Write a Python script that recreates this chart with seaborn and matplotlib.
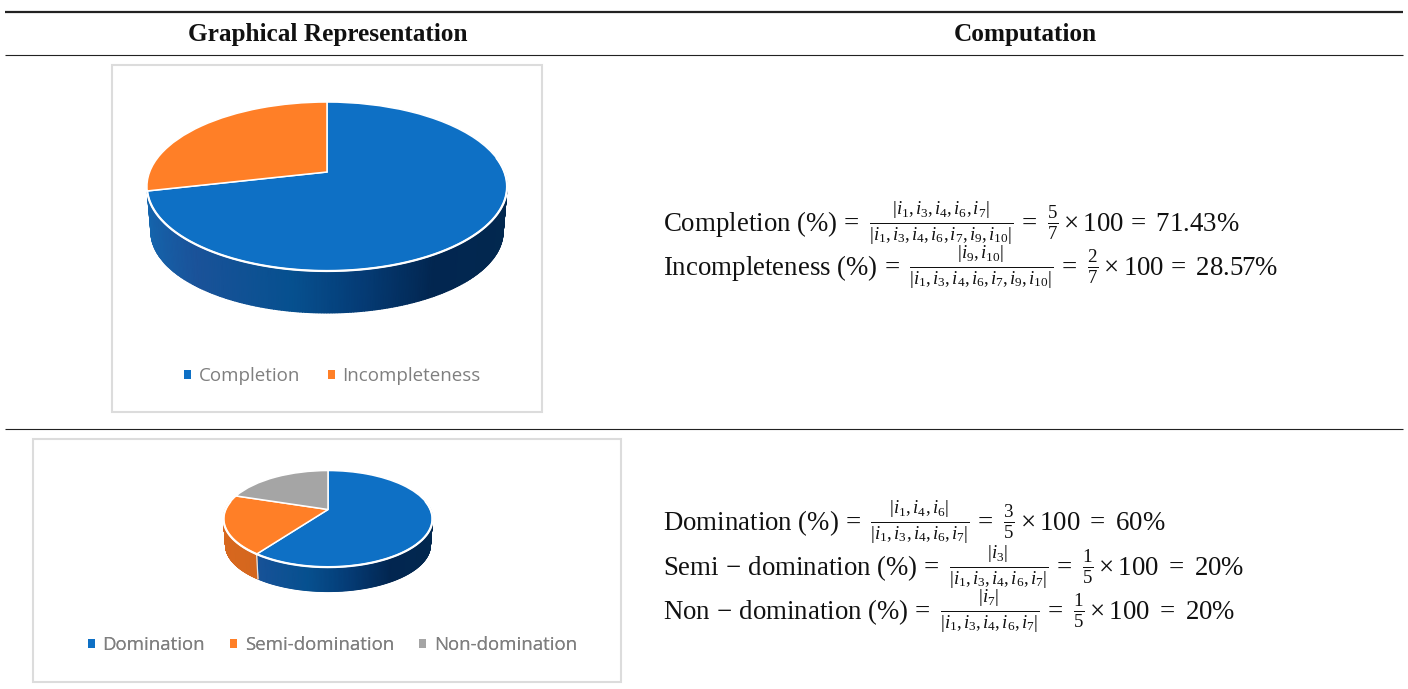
import numpy as np
import matplotlib
matplotlib.use("Agg")
import matplotlib.pyplot as plt
import seaborn as sns
from matplotlib.colors import LinearSegmentedColormap
from matplotlib.patches import Patch, Rectangle
from matplotlib.path import Path
from matplotlib.transforms import Transform

# Table content
header_left = "Graphical Representation"
header_right = "Computation"

completion_labels = ["Completion", "Incompleteness"]
completion_values = [71.43, 28.57]
domination_labels = ["Domination", "Semi-domination", "Non-domination"]
domination_values = [60, 20, 20]

completion_formulas = [
    r"$\mathrm{Completion}\ (\%)\,=\ \frac{|i_1{,}\,i_3{,}\,i_4{,}\,i_6{,}\,i_7|}{|i_1{,}\,i_3{,}\,i_4{,}\,i_6{,}\,i_7{,}\,i_9{,}\,i_{10}|}\,=\ \frac{5}{7}\times 100\,=\ 71.43\%$",
    r"$\mathrm{Incompleteness}\ (\%)\,=\ \frac{|i_9{,}\,i_{10}|}{|i_1{,}\,i_3{,}\,i_4{,}\,i_6{,}\,i_7{,}\,i_9{,}\,i_{10}|}\,=\ \frac{2}{7}\times 100\,=\ 28.57\%$",
]
domination_formulas = [
    r"$\mathrm{Domination}\ (\%)\,=\ \frac{|i_1{,}\,i_4{,}\,i_6|}{|i_1{,}\,i_3{,}\,i_4{,}\,i_6{,}\,i_7|}\,=\ \frac{3}{5}\times 100\ =\ 60\%$",
    r"$\mathrm{Semi}\,-\,\mathrm{domination}\ (\%)\,=\ \frac{|i_3|}{|i_1{,}\,i_3{,}\,i_4{,}\,i_6{,}\,i_7|}\,=\ \frac{1}{5}\times 100\ =\ 20\%$",
    r"$\mathrm{Non}\,-\,\mathrm{domination}\ (\%)\,=\ \frac{|i_7|}{|i_1{,}\,i_3{,}\,i_4{,}\,i_6{,}\,i_7|}\,=\ \frac{1}{5}\times 100\ =\ 20\%$",
]

sns.set_theme(style="white")
plt.rcParams["font.family"] = ["Liberation Serif", "DejaVu Serif"]
plt.rcParams["mathtext.fontset"] = "custom"
plt.rcParams["mathtext.rm"] = "Liberation Serif"
plt.rcParams["mathtext.it"] = "Liberation Serif:italic"
plt.rcParams["mathtext.bf"] = "Liberation Serif:bold"
plt.rcParams["mathtext.fallback"] = "stix"

slice_colors = sns.color_palette(["#0E70C5", "#FF7F27", "#A5A5A5"])
legend_grey = "#7F7F7F"
frame_grey = "#DCDCDC"

blue_wall = LinearSegmentedColormap.from_list(
    "blue_wall",
    [(0.0, "#1466AE"), (0.18, "#1A5299"), (0.42, "#06508F"),
     (0.58, "#053C76"), (0.76, "#022650"), (1.0, "#02284F")],
)
orange_wall = LinearSegmentedColormap.from_list("orange_wall", ["#D8681E", "#C75F1C"])


class TiltedDisc(Transform):
    """Projects the unit disc of a pie onto a receding plane, in pixel units."""

    input_dims = 2
    output_dims = 2
    is_separable = False
    has_inverse = False

    def __init__(self, cx, cy, a, b, k):
        super().__init__()
        self.cx, self.cy, self.a, self.b, self.k = cx, cy, a, b, k

    def transform_non_affine(self, values):
        values = np.asarray(values, dtype=float)
        u, v = values[:, 0], values[:, 1]
        d = 1 + self.k * v
        return np.column_stack([self.cx + self.a * u / d, self.cy - self.b * v / d])

    def transform_path_non_affine(self, path):
        return Path(self.transform_non_affine(path.vertices), path.codes)


def rim_points(disc, angles_deg):
    t = np.radians(angles_deg)
    return disc.transform_non_affine(np.column_stack([np.sin(t), np.cos(t)]))


def tilted_pie(ax, values, top, base, wall_maps, front=(80, 280)):
    """Draw a pie whose slices lie on the disc `top`, with a wall down to `base`."""
    wedges, _ = ax.pie(values, startangle=90, counterclock=False, colors=slice_colors,
                       wedgeprops=dict(edgecolor="white", linewidth=1.1))
    for w in wedges:
        w.set_transform(top + ax.transData)
        w.set_zorder(4)

    edges = np.concatenate([[0], np.cumsum(values) / np.sum(values) * 360])
    for i, (start, stop, cmap) in enumerate(zip(edges[:-1], edges[1:], wall_maps)):
        lo, hi = max(start, front[0]), min(stop, front[1])
        if cmap is None or hi <= lo:
            continue
        angles = np.linspace(lo, hi, 240)
        p_top, p_base = rim_points(top, angles), rim_points(base, angles)
        xx = np.vstack([p_top[:, 0], p_base[:, 0]])
        yy = np.vstack([p_top[:, 1], p_base[:, 1]])
        shade = (np.sin(np.radians(angles)) + 1) / 2
        ax.pcolormesh(xx, yy, np.vstack([shade, shade]), cmap=cmap, vmin=0, vmax=1,
                      shading="gouraud", zorder=2)
        # divider between neighbouring walls
        if i + 1 < len(wall_maps) and wall_maps[i + 1] is not None:
            ax.plot([p_top[-1, 0], p_base[-1, 0]], [p_top[-1, 1], p_base[-1, 1]],
                    color="#DDE3EA", lw=0.9, zorder=3)
        # bright lip along the front of the disc
        ax.plot(p_top[:, 0], p_top[:, 1], color="white", lw=1.6, zorder=5)


fig = plt.figure(figsize=(14.08, 6.89), dpi=100, facecolor="white")
ax = fig.add_axes([0, 0, 1, 1])

# Table rules
for y, lw in [(12, 1.6), (55, 0.8), (429, 0.8)]:
    ax.plot([5, 1403], [y, y], color="#222222", lw=lw, zorder=1, solid_capstyle="butt")

ax.text(327.5, 35, header_left, ha="center", va="center", fontsize=18.2, fontweight="bold", color="#111111")
ax.text(1025, 35, header_right, ha="center", va="center", fontsize=18.2, fontweight="bold", color="#111111")

# Chart frames
ax.add_patch(Rectangle((112, 65), 430, 347, fill=False, ec=frame_grey, lw=1.5, zorder=1))
ax.add_patch(Rectangle((33, 439), 588, 243, fill=False, ec=frame_grey, lw=1.5, zorder=1))

tilted_pie(ax, completion_values,
           TiltedDisc(327, 172, 177.4, 82, 0.1716),
           TiltedDisc(327, 218, 173.5, 78.7, 0.1716),
           [blue_wall, None])
tilted_pie(ax, domination_values,
           TiltedDisc(328, 509.5, 102.5, 46.5, 0.193),
           TiltedDisc(328, 536.3, 100.5, 44.6, 0.193),
           [blue_wall, orange_wall, None])


def chart_legend(labels, centre, size, spacing):
    handles = [Patch(facecolor=c, edgecolor="none") for c in slice_colors[:len(labels)]]
    leg = ax.legend(handles, labels, ncol=len(labels), loc="center", bbox_to_anchor=centre,
                    bbox_transform=ax.transData, frameon=False,
                    labelcolor=legend_grey, handlelength=0.37, handleheight=0.37,
                    handletextpad=0.42, columnspacing=spacing, borderpad=0, borderaxespad=0,
                    prop={"family": "Open Sans", "size": size})
    ax.add_artist(leg)


chart_legend(completion_labels, (332.5, 376), 13.5, 1.45)
chart_legend(domination_labels, (332.5, 645), 13.4, 1.35)

# Computation column
for y, formula in zip([233, 277], completion_formulas):
    ax.text(663, y, formula, ha="left", va="baseline", fontsize=19.4, color="#111111")
for y, formula in zip([532, 577, 621], domination_formulas):
    ax.text(663, y, formula, ha="left", va="baseline", fontsize=19.4, color="#111111")

ax.set_xlim(0, 1408)
ax.set_ylim(689, 0)
ax.set_aspect("auto")
ax.axis("off")

fig.savefig("out.png", dpi=100, facecolor="white")
